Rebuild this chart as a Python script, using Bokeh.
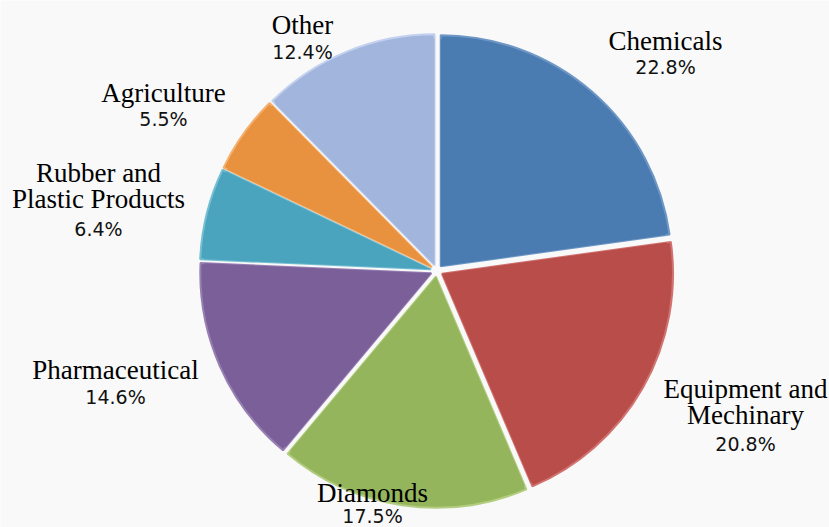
import math
from bokeh.plotting import figure
from bokeh.models import Range1d, ColumnDataSource
from bokeh.core.properties import value
from bokeh.embed import file_html
from bokeh.resources import INLINE

# ---- data ----
categories = ["Chemicals", "Equipment and\nMechinary", "Diamonds", "Pharmaceutical",
              "Rubber and\nPlastic Products", "Agriculture", "Other"]
shares = [22.8, 20.8, 17.5, 14.6, 6.4, 5.5, 12.4]
pct_labels = ["22.8%", "20.8%", "17.5%", "14.6%", "6.4%", "5.5%", "12.4%"]

# ---- styles / layout ----
colors = ["#4A7BB1", "#B84D4A", "#94B55B", "#7B5F99", "#4AA4BE", "#E8913F", "#A1B5DD"]
edge_colors = ["#6E97C6", "#D07370", "#B2CD80", "#9880B3", "#76BFD3", "#F5B06E", "#C2D1EE"]
W, H = 829, 527
cx, cy = 436.3, H - 270.3
R = 231
explode = 6
# label anchor positions (screen coords)
name_pos = [(665, [40]), (745, [388, 414]), (372, [492]), (115, [369]),
            (98, [172, 198]), (163, [92]), (302, [24])]
pct_pos = [(665, 66), (745, 443), (372, 515), (115, 396), (98, 228), (163, 118), (302, 51)]

p = figure(width=W, height=H, x_range=Range1d(0, W), y_range=Range1d(0, H),
           output_backend="svg", toolbar_location=None,
           x_axis_location=None, y_axis_location=None, min_border=0)
p.grid.visible = False
p.outline_line_color = None
p.background_fill_color = "#F9F9F9"
p.border_fill_color = "#F9F9F9"

total = sum(shares)
cum = 0.0
xs, ys, starts, ends = [], [], [], []
for s in shares:
    a0 = math.pi / 2 - 2 * math.pi * (cum + s) / total
    a1 = math.pi / 2 - 2 * math.pi * cum / total
    mid = (a0 + a1) / 2
    xs.append(cx + explode * math.cos(mid))
    ys.append(cy + explode * math.sin(mid))
    starts.append(a0)
    ends.append(a1)
    cum += s

src = ColumnDataSource(dict(x=xs, y=ys, start=starts, end=ends, color=colors, edge=edge_colors))
p.wedge(x="x", y="y", radius=R, start_angle="start", end_angle="end",
        fill_color="color", line_color="edge", line_width=2, source=src)
# soft inner bevel
p.wedge(x="x", y="y", radius=R - 4, start_angle="start", end_angle="end",
        fill_color="color", line_color=None, source=src)

# labels
nx, ny, nt = [], [], []
for cat, (x, yl) in zip(categories, name_pos):
    for line, y in zip(cat.split("\n"), yl):
        nx.append(x); ny.append(H - y); nt.append(line)
p.text(x=nx, y=ny, text=nt, text_font=value("Liberation Serif"), text_font_size="27px",
       text_align="center", text_baseline="middle", text_color="#000000")
p.text(x=[q[0] for q in pct_pos], y=[H - q[1] for q in pct_pos], text=pct_labels,
       text_font=value("DejaVu Sans"), text_font_size="19px",
       text_align="center", text_baseline="middle", text_color="#111111")

open("out.html", "w").write(file_html(p, INLINE))
